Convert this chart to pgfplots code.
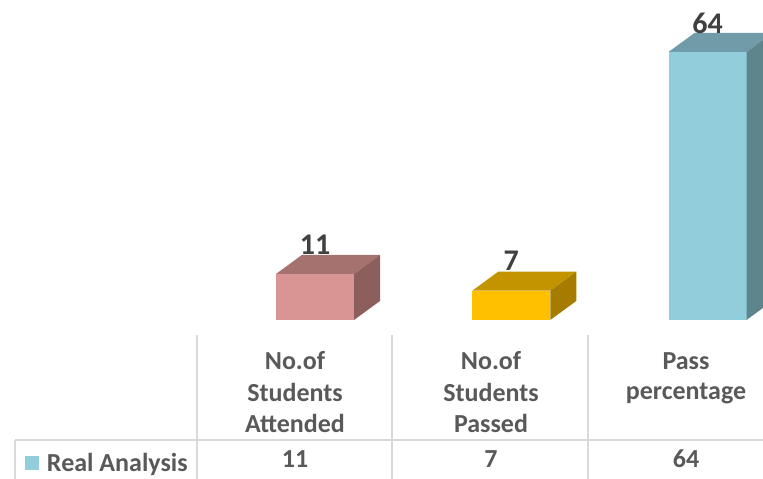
\documentclass[border=0pt]{standalone}
\usepackage{pgfplots}
\pgfplotsset{compat=1.18}
\usepackage{fontspec}
\setmainfont{Carlito}
\definecolor{rfront}{HTML}{D99594}
\definecolor{rtop}{HTML}{A5726F}
\definecolor{rside}{HTML}{8C5E5C}
\definecolor{yfront}{HTML}{FFC000}
\definecolor{ytop}{HTML}{C49400}
\definecolor{yside}{HTML}{A67C00}
\definecolor{bfront}{HTML}{92CDDC}
\definecolor{btop}{HTML}{6F9CA8}
\definecolor{bside}{HTML}{5E848C}
\definecolor{lbl}{HTML}{404040}
\definecolor{txt}{HTML}{595959}
\definecolor{gridc}{HTML}{D9D9D9}
\begin{document}
\begin{tikzpicture}[x=1pt,y=1pt]
\begin{axis}[at={(0pt,0pt)}, anchor=south west, width=763pt, height=479pt,
  scale only axis, hide axis, clip=true,
  xmin=-1.6051, xmax=2.2828, ymin=-37.97, ymax=76.42,
  legend style={draw=none, fill=none, at={(axis description cs:0.0,0.0)}, anchor=south west,
    inner sep=0pt, outer sep=0pt, font=\fontsize{26}{31}\selectfont\bfseries, text=txt,
    nodes={inner sep=0pt}, column sep=8pt, at={(25pt,6pt)}},
  legend image code/.code={\fill[bfront] (0pt,-7pt) rectangle (14pt,7pt);},
  ]
% front faces
\addplot[ybar, bar width=78pt, bar shift=0pt, fill=rfront, draw=none, forget plot] coordinates {(0,11)};
\addplot[ybar, bar width=78pt, bar shift=0pt, fill=yfront, draw=none, forget plot] coordinates {(1,7)};
\addplot[ybar, bar width=78pt, bar shift=0pt, fill=bfront, draw=none] coordinates {(2,64)};
\addlegendentry{Real Analysis}
% top faces
\addplot[fill=rtop, draw=none, forget plot] coordinates {(-0.1987,11) (0.1987,11) (0.3312,15.54) (-0.0662,15.54)} -- cycle;
\addplot[fill=ytop, draw=none, forget plot] coordinates {(0.8013,7) (1.1987,7) (1.3312,11.54) (0.9338,11.54)} -- cycle;
\addplot[fill=btop, draw=none, forget plot] coordinates {(1.8013,64) (2.1987,64) (2.3312,68.54) (1.9338,68.54)} -- cycle;
% side faces
\addplot[fill=rside, draw=none, forget plot] coordinates {(0.1987,0) (0.3312,4.54) (0.3312,15.54) (0.1987,11)} -- cycle;
\addplot[fill=yside, draw=none, forget plot] coordinates {(1.1987,0) (1.3312,4.54) (1.3312,11.54) (1.1987,7)} -- cycle;
\addplot[fill=bside, draw=none, forget plot] coordinates {(2.1987,0) (2.3312,4.54) (2.3312,68.54) (2.1987,64)} -- cycle;
% data labels
\node[anchor=base, font=\fontsize{30}{36}\selectfont\bfseries, text=lbl, inner sep=0pt] at (axis cs:0,15.7) {11};
\node[anchor=base, font=\fontsize{30}{36}\selectfont\bfseries, text=lbl, inner sep=0pt] at (axis cs:1,11.9) {7};
\node[anchor=base, font=\fontsize{30}{36}\selectfont\bfseries, text=lbl, inner sep=0pt] at (axis cs:2,68.5) {64};
\end{axis}
% data table
\draw[gridc, line width=1.2pt] (15,39) -- (763,39);
\draw[gridc, line width=1.2pt] (15,39) -- (15,0);
\draw[gridc, line width=1.2pt] (197,144) -- (197,0);
\draw[gridc, line width=1.2pt] (392,144) -- (392,0);
\draw[gridc, line width=1.2pt] (588,144) -- (588,0);
\begin{scope}[every node/.style={anchor=base, font=\fontsize{26}{31}\selectfont\bfseries, text=txt, inner sep=0pt}]
\node at (295,109) {No.of};
\node at (295,77) {Students};
\node at (295,46) {Attended};
\node at (491,109) {No.of};
\node at (491,77) {Students};
\node at (491,46) {Passed};
\node at (686,109) {Pass};
\node at (686,79) {percentage};
\node at (295,11) {11};
\node at (491,11) {7};
\node at (686,11) {64};
\end{scope}
\pgfresetboundingbox
\useasboundingbox (0,0) rectangle (763,479);
\end{tikzpicture}
\end{document}
